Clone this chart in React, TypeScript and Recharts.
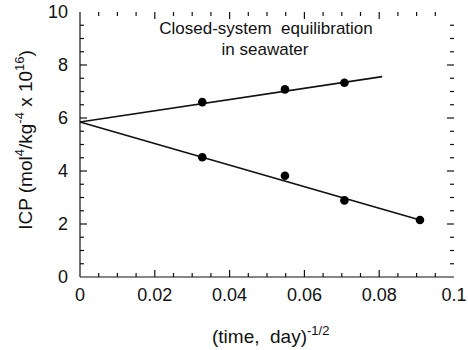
import React from 'react';
import { ComposedChart, Line, Scatter, XAxis, YAxis, ReferenceLine } from 'recharts';

// measured points (x = (time, day)^-1/2, y = ICP x 10^16)
const upperPoints = [
  { x: 0.0327, y: 6.6 },
  { x: 0.0548, y: 7.08 },
  { x: 0.0707, y: 7.33 },
];
const lowerPoints = [
  { x: 0.0327, y: 4.52 },
  { x: 0.0548, y: 3.82 },
  { x: 0.0707, y: 2.89 },
  { x: 0.0909, y: 2.15 },
];

// fitted lines, both from the common intercept
const upperFit = [
  { x: 0, y: 5.85 },
  { x: 0.0808, y: 7.56 },
];
const lowerFit = [
  { x: 0, y: 5.85 },
  { x: 0.0909, y: 2.15 },
];

const xTicks = [
  0.005, 0.01, 0.015, 0.02, 0.025, 0.03, 0.035, 0.04, 0.045, 0.05,
  0.055, 0.06, 0.065, 0.07, 0.075, 0.08, 0.085, 0.09, 0.095,
];
const xLabels = [0, 0.02, 0.04, 0.06, 0.08, 0.1];
const yTicks = [
  0.5, 1, 1.5, 2, 2.5, 3, 3.5, 4, 4.5, 5, 5.5, 6, 6.5, 7, 7.5, 8, 8.5, 9, 9.5,
];
const yLabels = [0, 2, 4, 6, 8, 10];

const X_DOMAIN = [0, 0.1];
const Y_DOMAIN = [0, 10];
const PLOT_W = 374;
const PLOT_H = 265;

const FONT = '"Liberation Sans", Arial, Helvetica, sans-serif';
const INK = '#111';

const isIn = (v: number, list: number[]) => list.some(l => Math.abs(l - v) < 1e-9);
const fmtX = (v: number) => (v === 0 ? '0' : String(Number(v.toFixed(2))));

// inward tick length in px -> data units
const xLen = (px: number) => (px * (X_DOMAIN[1] - X_DOMAIN[0])) / PLOT_W;
const yLen = (px: number) => (px * (Y_DOMAIN[1] - Y_DOMAIN[0])) / PLOT_H;

const XLabel = (p: any) =>
  isIn(p.payload.value, xLabels) ? (
    <text x={p.x} y={p.y} dy="0.72em" textAnchor="middle" fontSize={18} fill={INK} fontFamily={FONT}>
      {fmtX(p.payload.value)}
    </text>
  ) : null;

const YLabel = (p: any) =>
  isIn(p.payload.value, yLabels) ? (
    <text x={p.x} y={p.y} dy="0.36em" textAnchor="end" fontSize={18} fill={INK} fontFamily={FONT}>
      {p.payload.value}
    </text>
  ) : null;

const Dot = (p: any) => <circle cx={p.cx} cy={p.cy} r={4.3} fill="#000" />;

export default function App() {
  const axisLine = { stroke: INK, strokeWidth: 1.2 };
  const tickProps = { xAxisId: 'b', yAxisId: 'l', stroke: INK, strokeWidth: 1.2, ifOverflow: 'visible' as const };

  // tick marks on bottom + top
  const xMarks = xTicks.flatMap(v => {
    const len = isIn(v, xLabels) ? yLen(7) : yLen(4);
    return [
      <ReferenceLine key={`xb${v}`} {...tickProps} segment={[{ x: v, y: Y_DOMAIN[0] }, { x: v, y: Y_DOMAIN[0] + len }]} />,
      <ReferenceLine key={`xt${v}`} {...tickProps} segment={[{ x: v, y: Y_DOMAIN[1] }, { x: v, y: Y_DOMAIN[1] - len }]} />,
    ];
  });
  // tick marks on left + right
  const yMarks = yTicks.flatMap(v => {
    const len = isIn(v, yLabels) ? xLen(7) : xLen(4);
    return [
      <ReferenceLine key={`yl${v}`} {...tickProps} segment={[{ x: X_DOMAIN[0], y: v }, { x: X_DOMAIN[0] + len, y: v }]} />,
      <ReferenceLine key={`yr${v}`} {...tickProps} segment={[{ x: X_DOMAIN[1], y: v }, { x: X_DOMAIN[1] - len, y: v }]} />,
    ];
  });

  return (
    <div style={{ position: 'absolute', left: 0, top: 0, width: 468, height: 350, background: '#fff', fontFamily: FONT }}>
      <ComposedChart width={468} height={350} margin={{ top: 12, right: 14, left: 0, bottom: 0 }}>
        <XAxis
          xAxisId="b"
          dataKey="x"
          type="number"
          domain={X_DOMAIN}
          ticks={xLabels}
          interval={0}
          height={73}
          tickSize={0}
          tickMargin={11}
          tickLine={false}
          axisLine={axisLine}
          tick={XLabel}
        />
        <XAxis
          xAxisId="t"
          orientation="top"
          dataKey="x"
          type="number"
          domain={X_DOMAIN}
          ticks={xLabels}
          interval={0}
          height={0}
          tickSize={0}
          tickLine={false}
          axisLine={axisLine}
          tick={() => null}
        />
        <YAxis
          yAxisId="l"
          type="number"
          domain={Y_DOMAIN}
          ticks={yLabels}
          interval={0}
          width={80}
          tickSize={0}
          tickMargin={12}
          tickLine={false}
          axisLine={axisLine}
          tick={YLabel}
        />
        <YAxis
          yAxisId="r"
          orientation="right"
          type="number"
          domain={Y_DOMAIN}
          ticks={yLabels}
          interval={0}
          width={0}
          tickSize={0}
          tickLine={false}
          axisLine={axisLine}
          tick={() => null}
        />
        {xMarks}
        {yMarks}
        <Line data={upperFit} dataKey="y" xAxisId="b" yAxisId="l" type="linear" stroke={INK} strokeWidth={1.7} dot={false} isAnimationActive={false} />
        <Line data={lowerFit} dataKey="y" xAxisId="b" yAxisId="l" type="linear" stroke={INK} strokeWidth={1.7} dot={false} isAnimationActive={false} />
        <Scatter data={upperPoints} dataKey="y" xAxisId="b" yAxisId="l" shape={Dot} isAnimationActive={false} />
        <Scatter data={lowerPoints} dataKey="y" xAxisId="b" yAxisId="l" shape={Dot} isAnimationActive={false} />
      </ComposedChart>

      <svg width={468} height={350} style={{ position: 'absolute', left: 0, top: 0, pointerEvents: 'none' }} fontFamily={FONT} fill={INK}>
        <text x={266} y={33.5} textAnchor="middle" fontSize={17} xmlSpace="preserve">
          Closed-system  equilibration
        </text>
        <text x={265} y={55} textAnchor="middle" fontSize={17}>
          in seawater
        </text>

        <text x={212} y={343} fontSize={19} xmlSpace="preserve">
          (time,  day)
          <tspan dy={-8} fontSize={13}>-1/2</tspan>
        </text>

        <text transform="translate(32,140) rotate(-90)" textAnchor="middle" fontSize={19}>
          ICP (mol<tspan dy={-8} fontSize={13}>4</tspan>
          <tspan dy={8}>/kg</tspan>
          <tspan dy={-8} fontSize={13}>-4</tspan>
          <tspan dy={8}> x 10</tspan>
          <tspan dy={-8} fontSize={13}>16</tspan>
          <tspan dy={8}>)</tspan>
        </text>
      </svg>
    </div>
  );
}
